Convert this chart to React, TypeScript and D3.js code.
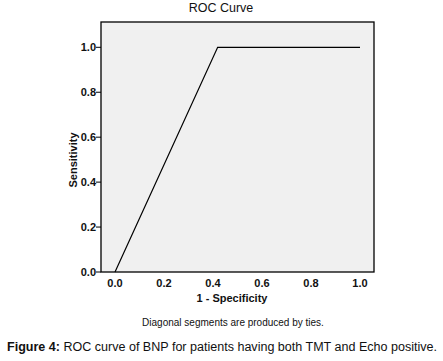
import React from "react";
import * as d3 from "d3";

const fpr = [0, 0.419, 1];
const tpr = [0, 1, 1];
const xTicks = [0, 0.2, 0.4, 0.6, 0.8, 1.0];
const yTicks = [0, 0.2, 0.4, 0.6, 0.8, 1.0];
const title = "ROC Curve";
const xLabel = "1 - Specificity";
const yLabel = "Sensitivity";
const note = "Diagonal segments are produced by ties.";
const captionBold = "Figure 4:";
const captionRest = " ROC curve of BNP for patients having both TMT and Echo positive.";

export default function App() {
  const W = 443, H = 361;
  const left = 101, right = 374, top = 22, bottom = 272;
  const x = d3.scaleLinear().domain([0, 1]).range([115, 360]);
  const y = d3.scaleLinear().domain([0, 1]).range([272, 47.3]);
  const pts = fpr.map((v, i) => [v, tpr[i]] as [number, number]);
  const line = d3.line<[number, number]>().x(d => x(d[0])).y(d => y(d[1]));
  const font = "Arial, 'Liberation Sans', sans-serif";
  return (
    <svg width={W} height={H} style={{ position: "absolute", left: 0, top: 0, background: "#fff" }} fontFamily={font}>
      <text x={221} y={8} dy="0.35em" textAnchor="middle" fontSize={12.5} fill="#111">{title}</text>
      <rect x={left} y={top} width={right - left} height={bottom - top} fill="#f0f0f0" stroke="#000" strokeWidth={1.3} />
      {yTicks.map(t => (
        <g key={t}>
          <line x1={left - 5} x2={left} y1={y(t)} y2={y(t)} stroke="#000" strokeWidth={1} />
          <text x={left - 5} y={y(t)} dy="0.35em" textAnchor="end" fontSize={11} fontWeight="bold" fill="#111">{d3.format(".1f")(t)}</text>
        </g>
      ))}
      {xTicks.map(t => (
        <text key={t} x={x(t)} y={283} dy="0.35em" textAnchor="middle" fontSize={11} fontWeight="bold" fill="#111">{d3.format(".1f")(t)}</text>
      ))}
      <path d={line(pts) || ""} fill="none" stroke="#000" strokeWidth={1.2} />
      <text x={232} y={298} dy="0.35em" textAnchor="middle" fontSize={11} fontWeight="bold" fill="#111">{xLabel}</text>
      <text transform={`translate(73,160) rotate(-90)`} textAnchor="middle" dy="0.35em" fontSize={11} fontWeight="bold" fill="#111">{yLabel}</text>
      <text x={233} y={322} dy="0.35em" textAnchor="middle" fontSize={10} fill="#111">{note}</text>
      <text x={7} y={347} dy="0.35em" fontSize={12.3} fill="#111" textLength={430} lengthAdjust="spacingAndGlyphs">
        <tspan fontWeight="bold">{captionBold}</tspan>
        <tspan>{captionRest}</tspan>
      </text>
    </svg>
  );
}
